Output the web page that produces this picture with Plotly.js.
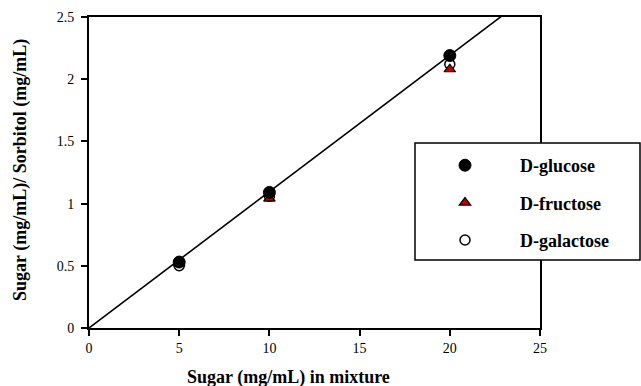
<!DOCTYPE html>
<html>
<head>
<meta charset="utf-8">
<script src="https://cdn.plot.ly/plotly-3.0.1.min.js"></script>
<style>html,body{margin:0;padding:0;background:#fff}#chart{width:641px;height:386px}</style>
</head>
<body>
<div id="chart"></div>
<script>
var sugarConc = [5, 10, 20];
var glucose = [0.53, 1.09, 2.19];
var fructose = [0.52, 1.04, 2.08];
var galactose = [0.50, 1.06, 2.12];
var lineX = [0, 25];
var lineY = [0, 2.74];
var xTicks = [0, 5, 10, 15, 20, 25];
var yTicks = [0, 0.5, 1, 1.5, 2, 2.5];
var xTitle = 'Sugar (mg/mL) in mixture';
var yTitle = 'Sugar (mg/mL)/ Sorbitol (mg/mL)';

var serif = "'Liberation Serif', 'Times New Roman', serif";

var traces = [
  {x: lineX, y: lineY, mode: 'lines', line: {color: '#000', width: 1.6}, showlegend: false, hoverinfo: 'skip'},
  {x: sugarConc, y: galactose, mode: 'markers', name: 'D-galactose', legendgroup: 'c', legendrank: 3,
   marker: {symbol: 'circle', size: 10, color: '#fff', line: {color: '#000', width: 1.5}}},
  {x: sugarConc, y: fructose, mode: 'markers', name: 'D-fructose', legendgroup: 'b', legendrank: 2,
   marker: {symbol: 'triangle-up', size: 10, color: '#c00000', line: {color: '#000', width: 1.2}}},
  {x: sugarConc, y: glucose, mode: 'markers', name: 'D-glucose', legendgroup: 'a', legendrank: 1,
   marker: {symbol: 'circle', size: 12, color: '#000', line: {color: '#000', width: 1}}}
];

var layout = {
  width: 641, height: 386,
  margin: {l: 89, r: 101, t: 17, b: 58},
  paper_bgcolor: '#fff', plot_bgcolor: '#fff',
  font: {family: serif, color: '#000', size: 13},
  xaxis: {
    range: [0, 25], tickvals: xTicks, ticktext: xTicks.map(String),
    showgrid: false, zeroline: false, showline: true, linecolor: '#000', linewidth: 2,
    mirror: true, ticks: 'outside', ticklen: 6, tickwidth: 2, tickcolor: '#000',
    tickfont: {family: serif, size: 14}
  },
  yaxis: {
    range: [0, 2.5], tickvals: yTicks, ticktext: yTicks.map(String),
    showgrid: false, zeroline: false, showline: true, linecolor: '#000', linewidth: 2,
    mirror: true, ticks: 'outside', ticklen: 6, tickwidth: 2, tickcolor: '#000',
    tickfont: {family: serif, size: 14}, ticklabelstandoff: 4
  },
  annotations: [
    {text: '<b>' + xTitle + '</b>', xref: 'paper', yref: 'paper', x: (288 - 89) / 451, y: -(377 - 328) / 311,
     xanchor: 'center', yanchor: 'middle', showarrow: false, font: {family: serif, size: 18, color: '#000'}},
    {text: '<b>' + yTitle + '</b>', xref: 'paper', yref: 'paper', x: -(89 - 20) / 451, y: (328 - 170) / 311,
     xanchor: 'center', yanchor: 'middle', textangle: -90, showarrow: false, font: {family: serif, size: 18, color: '#000'}}
  ],
  showlegend: true,
  legend: {
    xref: 'paper', yref: 'paper', xanchor: 'left', yanchor: 'top',
    x: (410 - 89) / 451, y: (328 - 147) / 311,
    bgcolor: 'rgba(0,0,0,0)', borderwidth: 0,
    itemwidth: 100, tracegroupgap: 11,
    font: {family: serif, size: 18, color: '#000', weight: 'bold'},
    traceorder: 'grouped'
  },
  shapes: [{
    type: 'rect', xref: 'paper', yref: 'paper',
    x0: (415 - 89) / 451, x1: (640 - 89) / 451,
    y0: (328 - 260) / 311, y1: (328 - 143) / 311,
    fillcolor: '#fff', line: {color: '#000', width: 1.5}, layer: 'above'
  }]
};

Plotly.newPlot('chart', traces, layout, {displayModeBar: false, staticPlot: true});
</script>
</body>
</html>
